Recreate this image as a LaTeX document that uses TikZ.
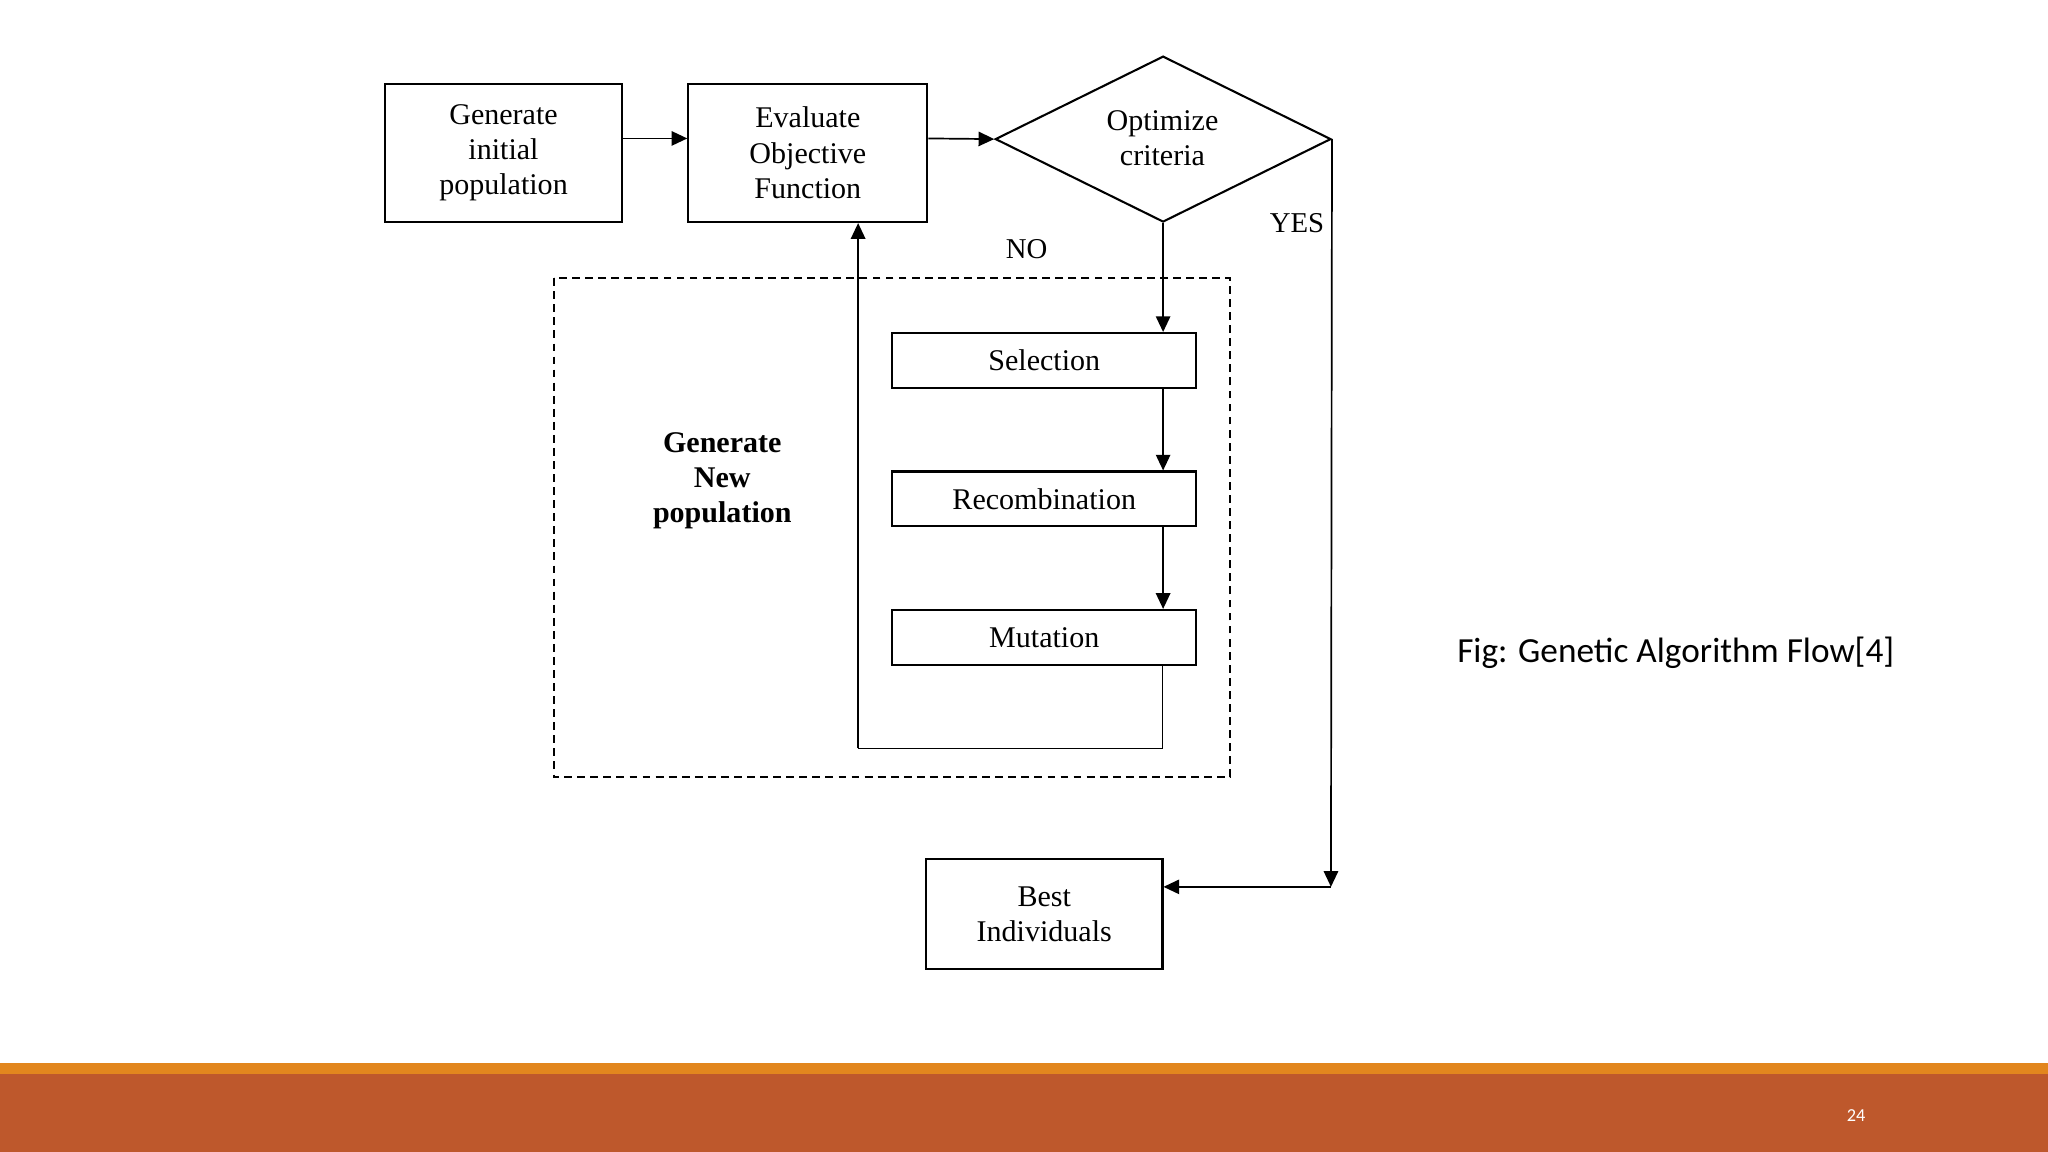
\documentclass[tikz,border=0pt]{standalone}
\usepackage{fontspec}
\setmainfont{Liberation Serif}
\newfontfamily\figfont{Carlito}
\usetikzlibrary{shapes.geometric,arrows.meta}
\definecolor{rust}{HTML}{BE582C}
\definecolor{orangeline}{HTML}{E2861E}
\begin{document}
\begin{tikzpicture}[x=1pt,y=-1pt,
  box/.style={draw,line width=1.6pt,align=center,inner sep=0pt,font=\fontsize{23}{27}\selectfont},
  arr/.style={line width=1.3pt,-{Triangle[length=12pt,width=11pt]}},
  ln/.style={line width=1.3pt}]
\useasboundingbox (0,0) rectangle (1568,882);
\fill[white] (0,0) rectangle (1568,882);
\fill[orangeline] (0,814) rectangle (1568,822);
\fill[rust] (0,822) rectangle (1568,882);
\node[text=white,font=\figfont\fontsize{14}{16}\selectfont] (pg) at (1421,854) {24};
\node[font=\figfont\fontsize{27}{32}\selectfont] (fig) at (1283,500) {Fig: Genetic Algorithm Flow[4]};

\node[box,minimum width=181,minimum height=106] (gen) at (385.5,117) {Generate\\initial\\population};
\node[box,minimum width=183,minimum height=106] (eval) at (618.5,117) {Evaluate\\Objective\\Function};
\node[draw,line width=1.6pt,diamond,aspect=2.02,minimum width=257,minimum height=127,inner sep=0pt] (opt) at (890.5,106.5) {};
\node[align=center,font=\fontsize{23}{27}\selectfont] (optt) at (890,106) {Optimize\\criteria};

\draw[line width=1.5pt,dash pattern=on 6pt off 4pt] (424,213) rectangle (942,595);
\node[align=center,font=\bfseries\fontsize{23}{27}\selectfont] (gnp) at (553,368) {Generate\\New\\population};

\node[box,minimum width=233,minimum height=42] (sel) at (799.5,276) {Selection};
\node[box,minimum width=233,minimum height=42] (rec) at (799.5,382) {Recombination};
\node[box,minimum width=233,minimum height=42] (mut) at (799.5,488) {Mutation};
\node[box,minimum width=181,minimum height=84] (best) at (799.5,700) {Best\\Individuals};

\node[font=\fontsize{22}{26}\selectfont] (no) at (786,191) {NO};
\node[font=\fontsize{22}{26}\selectfont] (yes) at (993,171) {YES};

\coordinate (m1) at (890,573);
\coordinate (m2) at (657,573);
\coordinate (y1) at (1019,679);

\draw[arr] (gen.east|-0,106) -- (eval.west|-0,106);
\draw[arr] (eval.east|-0,106) -- (opt.west);
\draw[arr] (opt.south) -- (sel.north-|opt.south);
\draw[arr] (sel.south-|opt.south) -- (rec.north-|opt.south);
\draw[arr] (rec.south-|opt.south) -- (mut.north-|opt.south);
\draw[ln] (mut.south-|m1) -- (m1) -- (m2);
\draw[arr] (m2) -- (eval.south-|m2);
\draw[arr] (opt.east) -- (y1);
\draw[arr] (y1) -- (best.east|-y1);
\end{tikzpicture}
\end{document}
